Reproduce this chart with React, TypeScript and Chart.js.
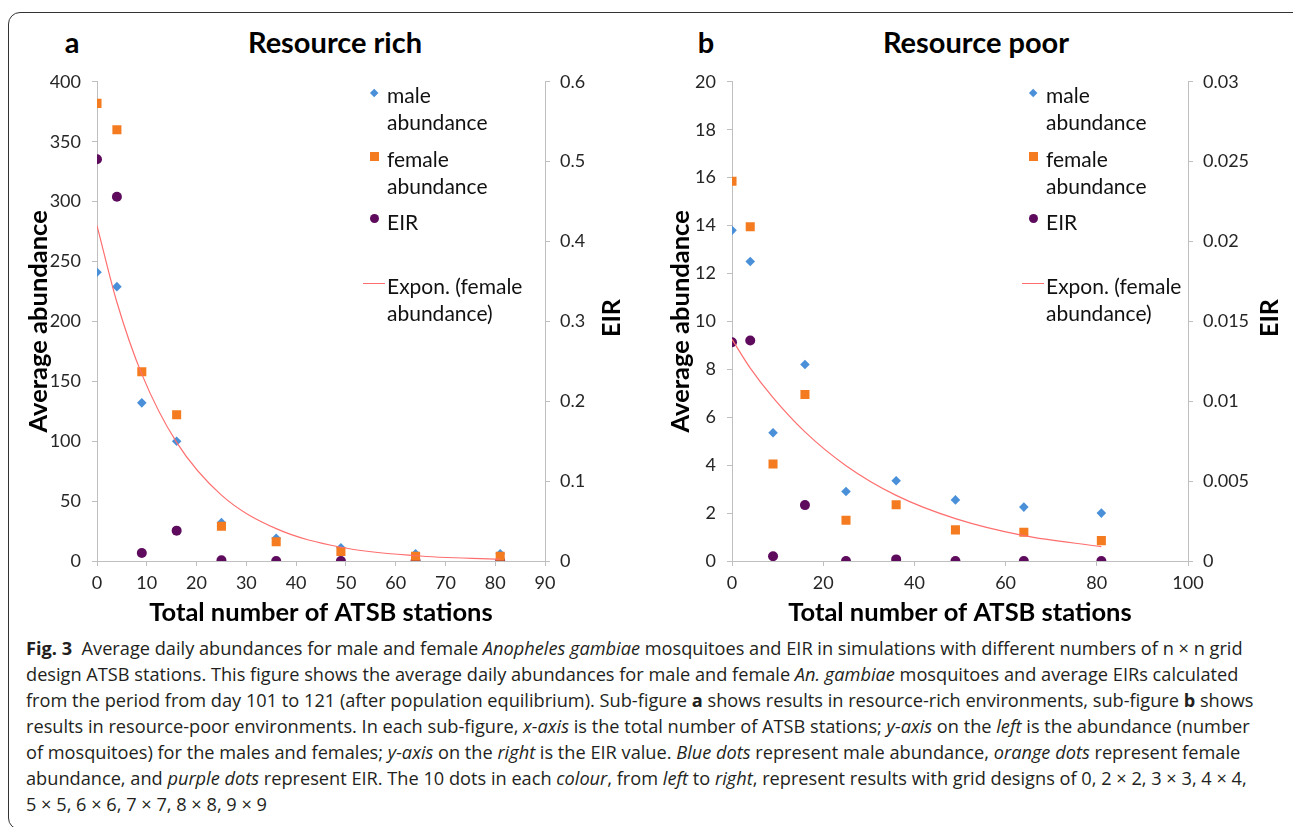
import React, { useEffect, useRef } from 'react';
import { Chart, registerables } from 'chart.js';

Chart.register(...registerables);

// ---- data ----
const stations = [0, 4, 9, 16, 25, 36, 49, 64, 81];

const richMale = [241, 229, 132, 100, 32, 19, 11, 6, 6];
const richFemale = [382, 360, 158, 122, 29, 16, 8, 4, 4];
const richEIR = [0.503, 0.456, 0.01, 0.038, 0.001, 0, 0, 0, 0];
const richTrend = [280, 216, 156, 99, 55, 27, 11.5, 4.4, 1.45];

const poorMale = [13.8, 12.5, 5.35, 8.2, 2.9, 3.35, 2.55, 2.25, 2.0];
const poorFemale = [15.85, 13.95, 4.05, 6.95, 1.7, 2.35, 1.3, 1.2, 0.85];
const poorEIR = [0.0137, 0.0138, 0.0003, 0.0035, 0, 0.0001, 0, 0, 0];
const poorTrend = [9.25, 8.05, 6.82, 5.39, 3.98, 2.74, 1.77, 1.06, 0.6];

const panelLetters = ['a', 'b'];
const panelTitles = ['Resource rich', 'Resource poor'];
const xTitle = 'Total number of ATSB stations';
const yTitle = 'Average abundance';
const y2Title = 'EIR';
const legendMale = ['male', 'abundance'];
const legendFemale = ['female', 'abundance'];
const legendEIR = ['EIR'];
const legendTrend = ['Expon. (female', 'abundance)'];

type Seg = [string, string];
const captionLines: Seg[][] = [
  [['Fig. 3', 'b'], ['  Average daily abundances for male and female ', ''], ['Anopheles gambiae', 'i'], [' mosquitoes and EIR in simulations with different numbers of n × n grid', '']],
  [['design ATSB stations. This figure shows the average daily abundances for male and female ', ''], ['An. gambiae', 'i'], [' mosquitoes and average EIRs calculated', '']],
  [['from the period from day 101 to 121 (after population equilibrium). Sub-figure ', ''], ['a', 'b'], [' shows results in resource-rich environments, sub-figure ', ''], ['b', 'b'], [' shows', '']],
  [['results in resource-poor environments. In each sub-figure, ', ''], ['x-axis', 'i'], [' is the total number of ATSB stations; ', ''], ['y-axis', 'i'], [' on the ', ''], ['left', 'i'], [' is the abundance (number', '']],
  [['of mosquitoes) for the males and females; ', ''], ['y-axis', 'i'], [' on the ', ''], ['right', 'i'], [' is the EIR value. ', ''], ['Blue dots', 'i'], [' represent male abundance, ', ''], ['orange dots', 'i'], [' represent female', '']],
  [['abundance, and ', ''], ['purple dots', 'i'], [' represent EIR. The 10 dots in each ', ''], ['colour', 'i'], [', from ', ''], ['left', 'i'], [' to ', ''], ['right', 'i'], [', represent results with grid designs of 0, 2 × 2, 3 × 3, 4 × 4,', '']],
  [['5 × 5, 6 × 6, 7 × 7, 8 × 8, 9 × 9', '']],
];

// ---- styles ----
const FONT = 'Lato, "Open Sans", sans-serif';
const CAPTION_FONT = '"Open Sans", Lato, sans-serif';
const BLUE = '#4a90d9';
const ORANGE = '#f47b20';
const PURPLE = '#5e0b5e';
const TREND = '#ff6f6f';
const AXIS = '#bfbfbf';
const TICK_TEXT = '#262626';

interface PanelCfg {
  male: number[];
  female: number[];
  eir: number[];
  trend: number[];
  xMax: number;
  xStep: number;
  yMax: number;
  yStep: number;
  y2Max: number;
  y2Step: number;
  leftWidth: number;
  yTitlePad: number;
}

const pts = (ys: number[]) => stations.map((x, i) => ({ x, y: ys[i] }));
const fmt = (v: any) => String(Number(Number(v).toFixed(4)));

function Panel({ cfg, left }: { cfg: PanelCfg; left: number }) {
  const ref = useRef<HTMLCanvasElement>(null);
  useEffect(() => {
    const tickFont = { family: FONT, size: 18 };
    const chart = new Chart(ref.current as HTMLCanvasElement, {
      type: 'scatter',
      data: {
        datasets: [
          {
            label: legendTrend.join(' '),
            data: pts(cfg.trend),
            showLine: true,
            borderColor: TREND,
            borderWidth: 1.2,
            pointRadius: 0,
            cubicInterpolationMode: 'monotone',
            yAxisID: 'y',
          } as any,
          {
            label: legendFemale.join(' '),
            data: pts(cfg.female),
            pointStyle: 'rect',
            pointRadius: 6.4,
            backgroundColor: ORANGE,
            borderColor: ORANGE,
            borderWidth: 0,
            yAxisID: 'y',
          },
          {
            label: legendMale.join(' '),
            data: pts(cfg.male),
            pointStyle: 'rectRot',
            pointRadius: 4.8,
            backgroundColor: BLUE,
            borderColor: BLUE,
            borderWidth: 0,
            yAxisID: 'y',
          },
          {
            label: legendEIR.join(' '),
            data: pts(cfg.eir),
            pointStyle: 'circle',
            pointRadius: 5,
            backgroundColor: PURPLE,
            borderColor: PURPLE,
            borderWidth: 0,
            yAxisID: 'y2',
          },
        ],
      },
      options: {
        animation: false,
        responsive: false,
        events: [],
        layout: { padding: { top: 17, left: 0, right: 0, bottom: 0 } },
        plugins: { legend: { display: false }, tooltip: { enabled: false } },
        scales: {
          x: {
            type: 'linear',
            min: 0,
            max: cfg.xMax,
            ticks: { stepSize: cfg.xStep, font: tickFont, color: TICK_TEXT, padding: 6, maxRotation: 0 },
            grid: { drawOnChartArea: false, drawTicks: true, tickLength: 5, color: AXIS },
            border: { color: AXIS },
            title: {
              display: true,
              text: xTitle,
              color: '#000',
              font: { family: FONT, size: 25.5, weight: 'bold' },
              padding: { top: 0, bottom: 7 },
            },
            afterFit: (s: any) => {
              s.height = 74;
            },
          },
          y: {
            type: 'linear',
            position: 'left',
            min: 0,
            max: cfg.yMax,
            ticks: { stepSize: cfg.yStep, font: tickFont, color: TICK_TEXT, padding: 11, callback: fmt },
            grid: { drawOnChartArea: false, drawTicks: true, tickLength: 5, color: AXIS },
            border: { color: AXIS },
            title: {
              display: true,
              text: yTitle,
              color: '#000',
              font: { family: FONT, size: 25.5, weight: 'bold' },
              padding: { top: cfg.yTitlePad, bottom: 0 },
            },
            afterFit: (s: any) => {
              s.width = cfg.leftWidth;
            },
          },
          y2: {
            type: 'linear',
            position: 'right',
            min: 0,
            max: cfg.y2Max,
            ticks: { stepSize: cfg.y2Step, font: tickFont, color: TICK_TEXT, padding: 10, callback: fmt },
            grid: { drawOnChartArea: false, drawTicks: true, tickLength: 5, color: AXIS },
            border: { color: AXIS },
            afterFit: (s: any) => {
              s.width = 105;
            },
          },
        },
      } as any,
    });
    return () => chart.destroy();
  }, []);
  return (
    <canvas
      ref={ref}
      width={left === 0 ? 650 : 653}
      height={575}
      style={{ position: 'absolute', left, top: 60, display: 'block' }}
    />
  );
}

function LegendBlock({ x }: { x: number }) {
  const textLeft = x + 13;
  const line = (txt: string, cy: number) => (
    <div
      key={txt + cy}
      style={{
        position: 'absolute',
        left: textLeft,
        top: cy - 13.5,
        height: 27,
        lineHeight: '27px',
        fontFamily: FONT,
        fontSize: 21,
        color: '#111',
        whiteSpace: 'nowrap',
      }}
    >
      {txt}
    </div>
  );
  return (
    <>
      <div style={{ position: 'absolute', left: x - 3.2, top: 93 - 3.2, width: 6.4, height: 6.4, background: BLUE, transform: 'rotate(45deg)' }} />
      <div style={{ position: 'absolute', left: x - 4.5, top: 156 - 4.5, width: 9, height: 9, background: ORANGE }} />
      <div style={{ position: 'absolute', left: x - 4.5, top: 218 - 4.5, width: 9, height: 9, background: PURPLE, borderRadius: '50%' }} />
      <div style={{ position: 'absolute', left: x - 11, top: 282.5, width: 22, height: 1.2, background: TREND }} />
      {line(legendMale[0], 94)}
      {line(legendMale[1], 121)}
      {line(legendFemale[0], 158)}
      {line(legendFemale[1], 185)}
      {line(legendEIR[0], 221)}
      {line(legendTrend[0], 285)}
      {line(legendTrend[1], 312)}
    </>
  );
}

const richCfg: PanelCfg = {
  male: richMale,
  female: richFemale,
  eir: richEIR,
  trend: richTrend,
  xMax: 90,
  xStep: 10,
  yMax: 400,
  yStep: 50,
  y2Max: 0.6,
  y2Step: 0.1,
  leftWidth: 97,
  yTitlePad: 23,
};

const poorCfg: PanelCfg = {
  male: poorMale,
  female: poorFemale,
  eir: poorEIR,
  trend: poorTrend,
  xMax: 100,
  xStep: 20,
  yMax: 20,
  yStep: 2,
  y2Max: 0.03,
  y2Step: 0.005,
  leftWidth: 92,
  yTitlePad: 25,
};

export default function App() {
  const titleStyle = (cx: number, txt: string, w: number) => (
    <div
      style={{
        position: 'absolute',
        left: cx - w / 2,
        width: w,
        top: 25,
        height: 34,
        lineHeight: '34px',
        textAlign: 'center',
        fontFamily: FONT,
        fontWeight: 'bold',
        fontSize: 29,
        color: '#000',
        whiteSpace: 'nowrap',
      }}
    >
      {txt}
    </div>
  );
  const eirTitle = (cx: number) => (
    <div
      style={{
        position: 'absolute',
        left: cx - 30,
        top: 318 - 15,
        width: 60,
        height: 30,
        lineHeight: '30px',
        textAlign: 'center',
        fontFamily: FONT,
        fontWeight: 'bold',
        fontSize: 25,
        color: '#000',
        transform: 'rotate(-90deg)',
      }}
    >
      {y2Title}
    </div>
  );
  return (
    <div
      style={{
        position: 'absolute',
        left: 0,
        top: 0,
        width: 1293,
        height: 827,
        overflow: 'hidden',
        background: '#fff',
      }}
    >
      <div
        style={{
          position: 'absolute',
          left: 8,
          top: 12,
          width: 1300,
          height: 818,
          border: '1.5px solid #333',
          borderRadius: 12,
          boxSizing: 'border-box',
        }}
      />
      <Panel cfg={richCfg} left={0} />
      <Panel cfg={poorCfg} left={640} />
      {titleStyle(72, panelLetters[0], 40)}
      {titleStyle(335, panelTitles[0], 300)}
      {titleStyle(706, panelLetters[1], 40)}
      {titleStyle(976, panelTitles[1], 300)}
      {eirTitle(610)}
      {eirTitle(1268)}
      <LegendBlock x={374} />
      <LegendBlock x={1033} />
      <div style={{ position: 'absolute', left: 26, top: 635, fontFamily: CAPTION_FONT, fontSize: 18.2, color: '#231f20' }}>
        {captionLines.map((segs, i) => (
          <div key={i} style={{ height: 26, lineHeight: '26px', whiteSpace: 'pre' }}>
            {segs.map(([t, s], j) => (
              <span
                key={j}
                style={{ fontWeight: s === 'b' ? 'bold' : 'normal', fontStyle: s === 'i' ? 'italic' : 'normal' }}
              >
                {t}
              </span>
            ))}
          </div>
        ))}
      </div>
    </div>
  );
}
